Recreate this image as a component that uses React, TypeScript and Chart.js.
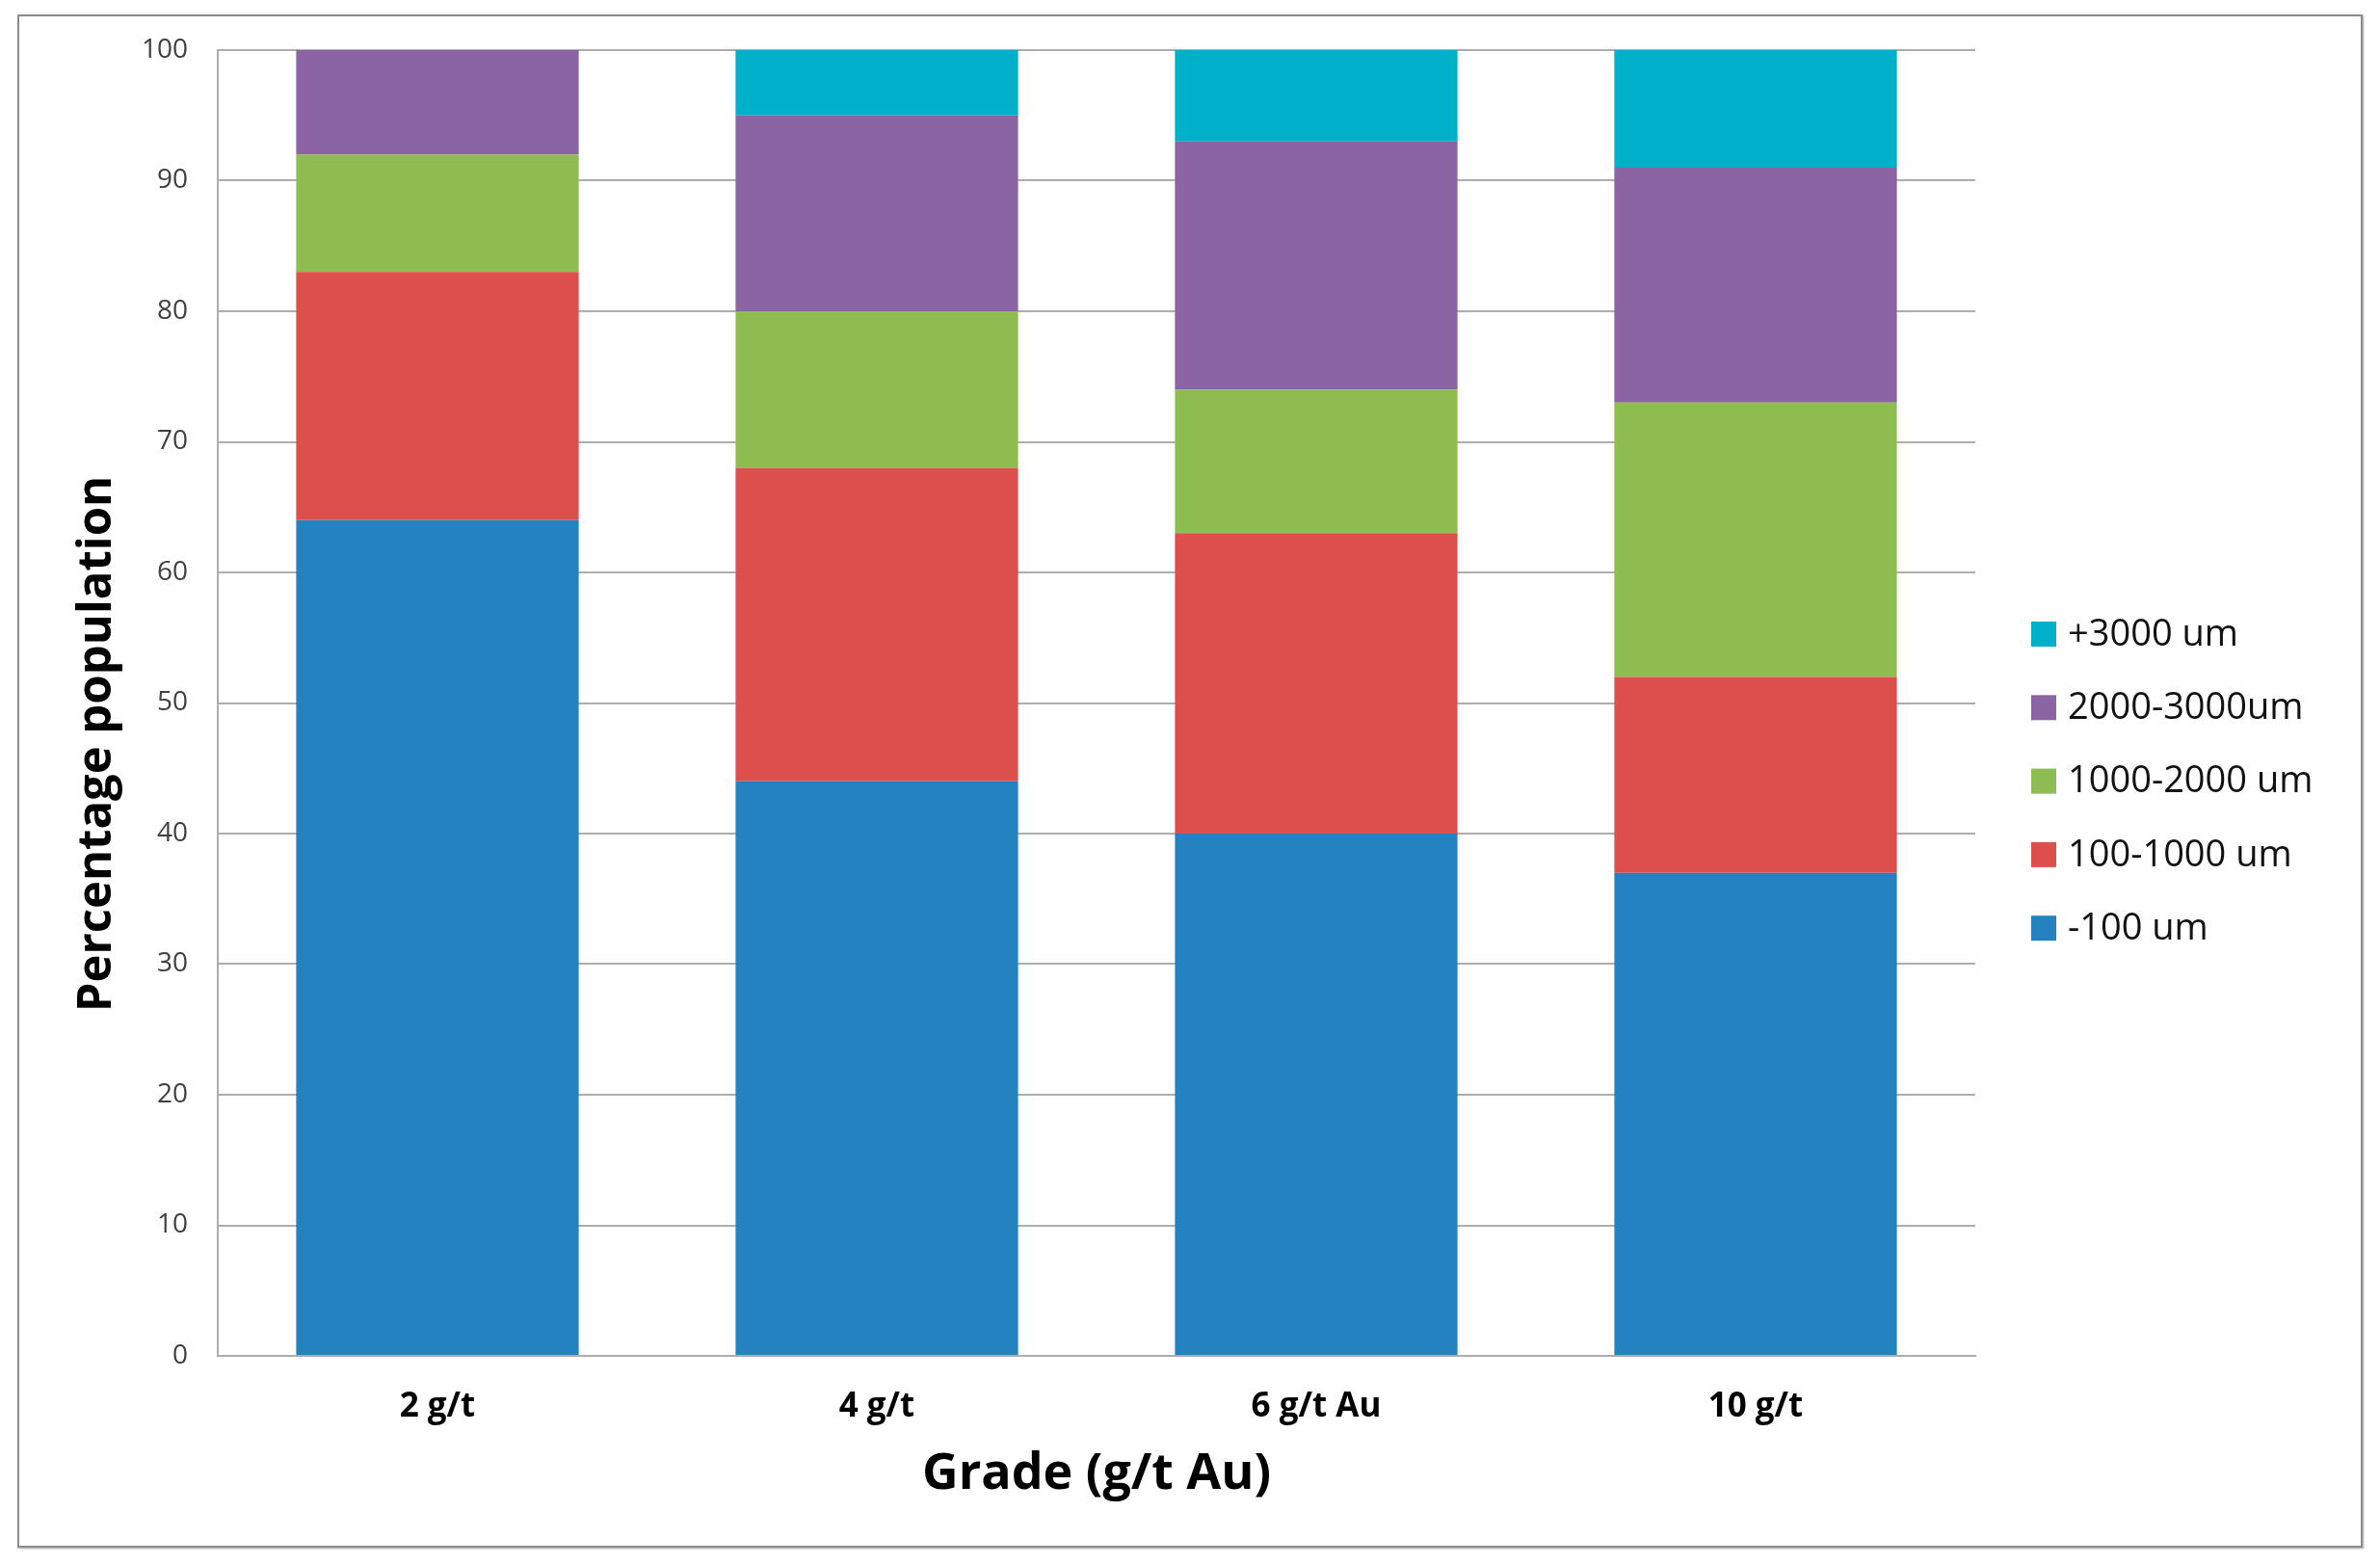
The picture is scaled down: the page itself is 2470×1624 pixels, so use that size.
import React, { useEffect, useRef } from 'react';
import { Chart, registerables } from 'chart.js';

Chart.register(...registerables);

const grades = ['2 g/t', '4 g/t', '6 g/t Au', '10 g/t'];
const sizeClasses = ['-100 um', '100-1000 um', '1000-2000 um', '2000-3000um', '+3000 um'];
const minus100 = [64, 44, 40, 37];
const from100to1000 = [19, 24, 23, 15];
const from1000to2000 = [9, 12, 11, 21];
const from2000to3000 = [8, 15, 19, 18];
const plus3000 = [0, 5, 7, 9];
const yTicks = [0, 10, 20, 30, 40, 50, 60, 70, 80, 90, 100];
const yTitle = 'Percentage population';

const colors = ['#2482C0', '#DD4F4D', '#8FBC50', '#8A64A3', '#00AFC8'];
const FONT = "'Open Sans', sans-serif";

// legend on the right (reverse stack order) and the y title, which sits a bit below centre
const extras = {
  id: 'extras',
  afterDraw(chart: Chart) {
    const { ctx } = chart;
    const sets = chart.data.datasets.slice().reverse();
    ctx.save();
    ctx.font = `38px ${FONT}`;
    ctx.textBaseline = 'middle';
    ctx.textAlign = 'left';
    sets.forEach((ds, i) => {
      const y = 658 + i * 76.3;
      ctx.fillStyle = ds.backgroundColor as string;
      ctx.fillRect(2108, y - 13, 26, 26);
      ctx.fillStyle = '#111';
      ctx.fillText(ds.label as string, 2146, y + 1);
    });

    ctx.translate(101, 772);
    ctx.rotate(-Math.PI / 2);
    ctx.font = `bold 49px ${FONT}`;
    ctx.textAlign = 'center';
    ctx.fillStyle = '#000';
    ctx.fillText(yTitle, 0, 0);
    ctx.restore();
  },
};

const GradeChart: React.FC = () => {
  const chartRef = useRef<HTMLCanvasElement>(null);

  useEffect(() => {
    if (!chartRef.current) return;
    const series = [minus100, from100to1000, from1000to2000, from2000to3000, plus3000];
    const chart = new Chart(chartRef.current, {
      type: 'bar',
      data: {
        labels: grades,
        datasets: series.map((data, i) => ({
          label: sizeClasses[i],
          data,
          backgroundColor: colors[i],
          borderWidth: 0,
          categoryPercentage: 1,
          barPercentage: 0.643,
        })),
      },
      options: {
        responsive: true,
        maintainAspectRatio: false,
        animation: false,
        layout: { padding: { top: 52, right: 420, left: 0, bottom: 0 } },
        plugins: {
          legend: { display: false },
          tooltip: { enabled: false },
        },
        scales: {
          x: {
            stacked: true,
            grid: { display: false },
            border: { display: true, color: '#ADADAD', width: 2 },
            ticks: {
              font: { family: FONT, size: 35, weight: 'bold' },
              color: '#000',
              padding: 24,
            },
            title: {
              display: true,
              text: 'Grade (g/t Au)',
              font: { family: FONT, size: 52, weight: 'bold' },
              color: '#000',
              padding: { top: 0, bottom: 63 },
            },
            afterFit: (scale: any) => {
              scale.height = 217;
            },
          },
          y: {
            stacked: true,
            min: 0,
            max: 100,
            afterBuildTicks: (scale: any) => {
              scale.ticks = yTicks.map((v) => ({ value: v }));
            },
            grid: { color: '#ADADAD', lineWidth: 2, drawTicks: false },
            border: { display: true, color: '#ADADAD', width: 2 },
            ticks: {
              font: { family: FONT, size: 28 },
              color: '#404040',
              padding: 31,
            },
            afterFit: (scale: any) => {
              scale.width = 226;
            },
          },
        },
      },
      plugins: [extras],
    });
    return () => {
      chart.destroy();
    };
  }, []);

  return (
    <div style={{ position: 'fixed', left: 0, top: 0, width: 2470, height: 1624, background: '#fff' }}>
      <div
        style={{
          position: 'absolute',
          left: 18,
          top: 15,
          width: 2434,
          height: 1591,
          boxSizing: 'border-box',
          border: '2px solid #8c8c8c',
          boxShadow: '1px 1px 2px rgba(0,0,0,0.35)',
        }}
      />
      <div style={{ position: 'absolute', left: 0, top: 0, width: 2470, height: 1624 }}>
        <canvas ref={chartRef} />
      </div>
    </div>
  );
};

export default function App() {
  return <GradeChart />;
}
